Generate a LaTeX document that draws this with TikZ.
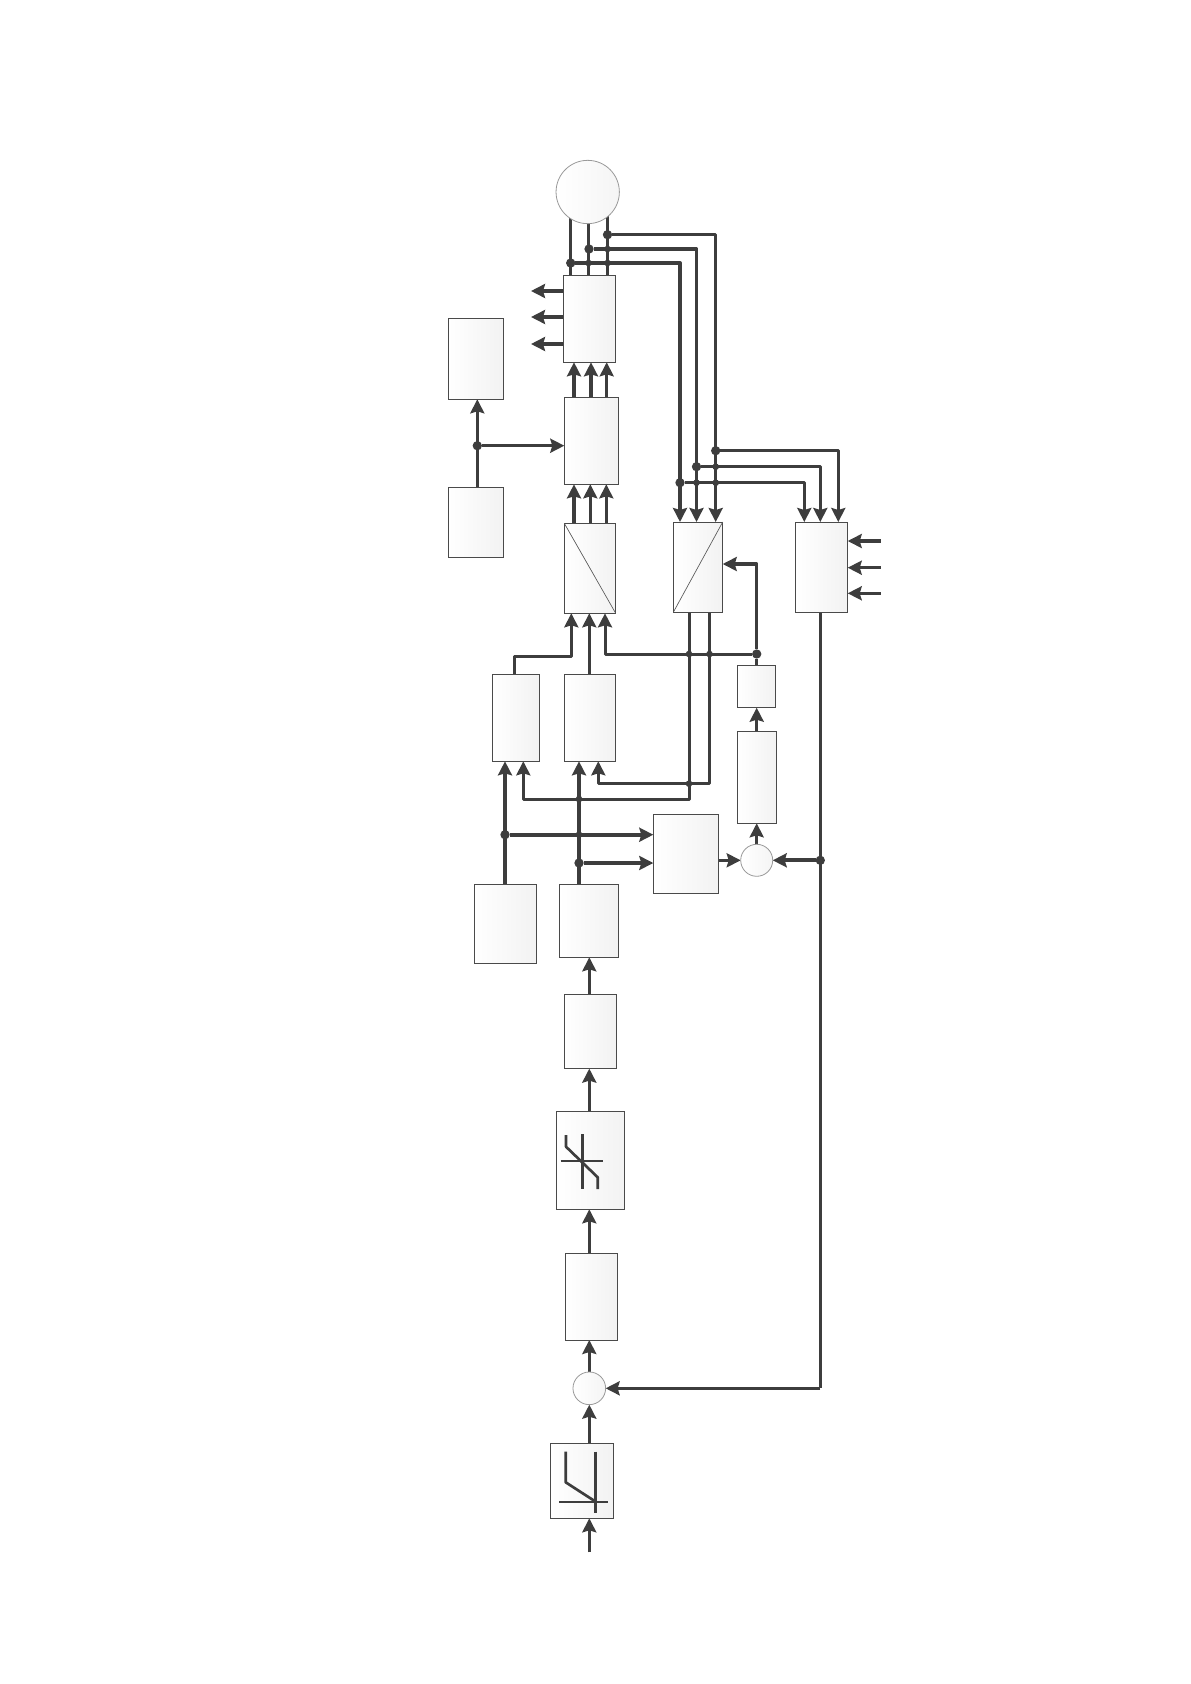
\documentclass[tikz,border=0pt]{standalone}
\usetikzlibrary{arrows.meta,backgrounds}
\definecolor{ink}{HTML}{3D3D3D}
\definecolor{edge}{HTML}{4A4A4A}
\tikzset{
  blk/.style={rectangle,draw=edge,line width=0.7pt,left color=white,right color=black!5,inner sep=0pt,outer sep=0pt},
  sumc/.style={circle,draw=black!40,line width=0.6pt,left color=white,right color=black!4,inner sep=0pt,outer sep=0pt},
  wire/.style={draw=ink,line width=2.5pt,line join=round},
  thinw/.style={draw=ink,line width=2.25pt,line join=round},
  thickw/.style={draw=ink,line width=3pt,line join=round},
  arr/.style={-{Stealth[length=10.5pt,width=10.5pt,inset=1.5pt]}},
  jbig/.style={circle,fill=ink,inner sep=0pt,outer sep=0pt,minimum size=7pt},
  jsmall/.style={circle,fill=ink,inner sep=0pt,outer sep=0pt,minimum size=5pt},
  symb/.style={draw=ink,line width=2pt,line join=round},
  symbt/.style={draw=ink,line width=1.6pt},
  diag/.style={draw=black!65,line width=0.5pt}
}
\newcommand{\bx}[5]{%
  \pgfmathsetmacro{\bxw}{(#4-#2)*0.75}%
  \pgfmathsetmacro{\bxh}{(#5-#3)*0.75}%
  \pgfmathsetmacro{\bxcx}{(#4+#2)/2}%
  \pgfmathsetmacro{\bxcy}{(#5+#3)/2}%
  \node[blk,minimum width=\bxw pt,minimum height=\bxh pt] (#1) at (\bxcx,\bxcy) {};%
}
\begin{document}
\begin{tikzpicture}[x=0.75pt,y=-0.75pt]
\useasboundingbox (0,0) rectangle (1190,1684);
% blocks
\node[sumc,minimum size=47.5pt] (mot) at (587.7,192) {};
\bx{aa}{563.3}{275}{615.7}{362.3}
\bx{bb}{564.3}{397}{618.7}{484.3}
\bx{cv1}{564.3}{523.3}{615.7}{613.3}
\bx{cv2}{673.3}{522}{722.7}{612.3}
\bx{rr}{795.3}{522}{847.7}{612.3}
\bx{lt}{448.3}{318.3}{503.7}{399.3}
\bx{lb}{448.3}{487.3}{503.7}{557.3}
\bx{c1}{492.3}{674.3}{539.7}{761.3}
\bx{c2}{564.3}{674.3}{615.7}{761.3}
\bx{sm}{737.3}{665.3}{775.7}{707.7}
\bx{tl}{737.3}{731.3}{776.7}{823.3}
\bx{mid}{653.3}{814.3}{718.7}{893.3}
\node[sumc,minimum size=24pt] (s1) at (756.7,860.3) {};
\bx{d1}{474.3}{884.3}{536.7}{963.3}
\bx{d2}{559.3}{884.3}{618.7}{957.3}
\bx{ee}{564}{994.5}{616}{1068.6}
\bx{ff}{556.7}{1111}{624.7}{1209.3}
\bx{gg}{565.3}{1253.4}{617.6}{1340}
\node[sumc,minimum size=24.5pt] (s2) at (589.3,1388.3) {};
\bx{hh}{550.7}{1443}{613.7}{1518.3}
% channel coordinates
\coordinate (xm1) at (570.5,0);
\coordinate (xm2) at (588.5,0);
\coordinate (xm3) at (607.5,0);
\coordinate (cc1) at (680,0);
\coordinate (cc2) at (696.5,0);
\coordinate (cc3) at (715.7,0);
\coordinate (rc1) at (804.3,0);
\coordinate (rc2) at (820.3,0);
\coordinate (rc3) at (838.3,0);
\coordinate (ab1) at (574,0);
\coordinate (ab2) at (591,0);
\coordinate (ab3) at (606.7,0);
\coordinate (bc1) at (574,0);
\coordinate (bc2) at (590.3,0);
\coordinate (bc3) at (606.3,0);
\coordinate (in1) at (571.3,0);
\coordinate (in2) at (589.3,0);
\coordinate (in3) at (605,0);
\coordinate (xl) at (477.3,0);
\coordinate (k1) at (514.7,656.7);
\coordinate (kc) at (756.7,564);
\coordinate (k3) at (689,799);
\coordinate (k4) at (709.5,783.7);
\coordinate (c1b) at (523.3,0);
\coordinate (c2b) at (598.3,0);
\coordinate (xd1) at (505,0);
\coordinate (xd2) at (579,0);
\coordinate (xr) at (820.3,0);
\coordinate (ya1) at (0,291);
\coordinate (ya2) at (0,317);
\coordinate (ya3) at (0,344);
\coordinate (oa) at (531,0);
\coordinate (yr1) at (0,541);
\coordinate (yr2) at (0,567.7);
\coordinate (yr3) at (0,593.3);
\coordinate (or) at (880.7,0);
\coordinate (start) at (589.3,1552.3);
% junctions
\node[jbig] (j1) at (607.5,234.7) {};
\node[jbig] (j2) at (589,249) {};
\node[jbig] (j3) at (570.7,263) {};
\node[jsmall] (n1) at (607.5,249) {};
\node[jsmall] (n2) at (588.5,263) {};
\node[jsmall] (n3) at (607.5,263) {};
\node[jbig] (j4) at (715.7,450.7) {};
\node[jbig] (j5) at (696.5,466.7) {};
\node[jbig] (j6) at (680,482.7) {};
\node[jsmall] (n4) at (715.7,466.7) {};
\node[jsmall] (n5) at (696.5,482.7) {};
\node[jsmall] (n6) at (715.7,482.7) {};
\node[jbig] (jl) at (477.3,445.7) {};
\node[jbig] (jr) at (756.7,654) {};
\node[jsmall] (n7) at (689,654) {};
\node[jsmall] (n8) at (709.5,654) {};
\node[jsmall] (n9) at (689,783.7) {};
\node[jsmall] (n10) at (579,799) {};
\node[jbig] (j7) at (505,834.7) {};
\node[jsmall] (n11) at (579,834.7) {};
\node[jbig] (j8) at (579,863) {};
\node[jbig] (j9) at (820.3,860.3) {};
% wires behind the blocks
\begin{pgfonlayer}{background}
\draw[wire] (xm1 |- mot.center) -- (xm1 |- aa.north);
\draw[wire] (xm2 |- mot.center) -- (xm2 |- aa.north);
\draw[wire] (xm3 |- mot.center) -- (xm3 |- aa.north);
\draw[wire,arr] (j1) -| (cc3 |- cv2.north);
\draw[wire,arr] (j2) -| (cc2 |- cv2.north);
\draw[wire,arr] (j3) -| (cc1 |- cv2.north);
\draw[wire,arr] (j4) -| (rc3 |- rr.north);
\draw[wire,arr] (j5) -| (rc2 |- rr.north);
\draw[wire,arr] (j6) -| (rc1 |- rr.north);
\draw[wire,arr] (ya1 -| aa.west) -- (ya1 -| oa);
\draw[wire,arr] (ya2 -| aa.west) -- (ya2 -| oa);
\draw[wire,arr] (ya3 -| aa.west) -- (ya3 -| oa);
\draw[wire,arr] (ab1 |- bb.north) -- (ab1 |- aa.south);
\draw[wire,arr] (ab2 |- bb.north) -- (ab2 |- aa.south);
\draw[wire,arr] (ab3 |- bb.north) -- (ab3 |- aa.south);
\draw[wire,arr] (bc1 |- cv1.north) -- (bc1 |- bb.south);
\draw[thinw,arr] (bc2 |- cv1.north) -- (bc2 |- bb.south);
\draw[wire,arr] (bc3 |- cv1.north) -- (bc3 |- bb.south);
\draw[wire,arr] (xl |- lb.north) -- (xl |- lt.south);
\draw[wire,arr] (jl) -- (jl -| bb.west);
\draw[wire,arr] (yr1 -| or) -- (yr1 -| rr.east);
\draw[wire,arr] (yr2 -| or) -- (yr2 -| rr.east);
\draw[wire,arr] (yr3 -| or) -- (yr3 -| rr.east);
\draw[wire,arr] (k1 |- c1.north) -- (k1) -| (in1 |- cv1.south);
\draw[thinw,arr] (in2 |- c2.north) -- (in2 |- cv1.south);
\draw[thinw,arr] (jr) -| (in3 |- cv1.south);
\draw[wire] (jr |- sm.north) -- (jr);
\draw[wire,arr] (jr) -- (kc) -- (kc -| cv2.east);
\draw[thinw,arr] (k3 |- cv2.south) -- (k3) -| (c1b |- c1.south);
\draw[thinw,arr] (k4 |- cv2.south) -- (k4) -| (c2b |- c2.south);
\draw[thickw,arr] (xd1 |- d1.north) -- (xd1 |- c1.south);
\draw[wire,arr] (xd2 |- d2.north) -- (xd2 |- c2.south);
\draw[thickw,arr] (j7) -- (j7 -| mid.west);
\draw[wire,arr] (j8) -- (j8 -| mid.west);
\draw[wire,arr] (mid.east |- s1.center) -- (s1.west);
\draw[wire,arr] (s1.north) -- (s1.north |- tl.south);
\draw[wire,arr] (s1.north |- tl.north) -- (s1.north |- sm.south);
\draw[thinw] (xr |- rr.south) -- (xr |- s2.center);
\draw[thickw,arr] (j9) -- (s1.east);
\draw[wire,arr] (xr |- s2.center) -- (s2.east);
\draw[thinw,arr] (in2 |- ee.north) -- (in2 |- d2.south);
\draw[thinw,arr] (in2 |- ff.north) -- (in2 |- ee.south);
\draw[thinw,arr] (in2 |- gg.north) -- (in2 |- ff.south);
\draw[thinw,arr] (s2.north) -- (s2.north |- gg.south);
\draw[thinw,arr] (in2 |- hh.north) -- (s2.south);
\draw[thinw,arr] (start) -- (start |- hh.south);
\end{pgfonlayer}
% converter diagonals
\draw[diag] (cv1.north west) -- (cv1.south east);
\draw[diag] (cv2.south west) -- (cv2.north east);
% limiter symbols
\draw[symbt] (560.7,1161) -- (603.3,1161);
\draw[symb] (582.3,1134.3) -- (582.3,1189);
\draw[symb] (566,1135) -- (566,1146.7) -- (597.7,1177.3) -- (597.7,1189);
\draw[symbt] (559,1501.7) -- (608.3,1501.7);
\draw[symb] (595.7,1451.7) -- (595.7,1512.7);
\draw[symb] (565.7,1451.7) -- (565.7,1482.3) -- (595.7,1501.7);
\end{tikzpicture}
\end{document}
